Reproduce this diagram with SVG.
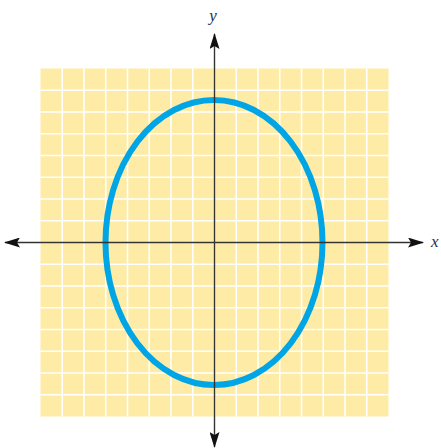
<svg xmlns="http://www.w3.org/2000/svg" width="441" height="448" viewBox="0 0 441 448">
<style>
.grid line{stroke:#ffffff;stroke-width:1.6}
.axis{stroke:#333333;stroke-width:1.4;fill:none}
.lbl{font-family:"Liberation Serif",serif;font-style:italic;font-size:17px;fill:#1f2d5c}
</style>
<defs>
<marker id="ah" viewBox="0 0 16 10" refX="15" refY="5" markerWidth="16" markerHeight="10" markerUnits="userSpaceOnUse" orient="auto">
<path d="M0,0 L16,5 L0,10 L3,5 Z" fill="#111111"/>
</marker>
</defs>
<g id="plane">
<rect x="40.5" y="68.5" width="348" height="348" fill="#fdeba6"/>
<g class="grid">
<line x1="62.25" y1="68.5" x2="62.25" y2="416.5"/>
<line x1="84" y1="68.5" x2="84" y2="416.5"/>
<line x1="105.75" y1="68.5" x2="105.75" y2="416.5"/>
<line x1="127.5" y1="68.5" x2="127.5" y2="416.5"/>
<line x1="149.25" y1="68.5" x2="149.25" y2="416.5"/>
<line x1="171" y1="68.5" x2="171" y2="416.5"/>
<line x1="192.75" y1="68.5" x2="192.75" y2="416.5"/>
<line x1="214.5" y1="68.5" x2="214.5" y2="416.5"/>
<line x1="236.25" y1="68.5" x2="236.25" y2="416.5"/>
<line x1="258" y1="68.5" x2="258" y2="416.5"/>
<line x1="279.75" y1="68.5" x2="279.75" y2="416.5"/>
<line x1="301.5" y1="68.5" x2="301.5" y2="416.5"/>
<line x1="323.25" y1="68.5" x2="323.25" y2="416.5"/>
<line x1="345" y1="68.5" x2="345" y2="416.5"/>
<line x1="366.75" y1="68.5" x2="366.75" y2="416.5"/>
<line x1="40.5" y1="90.25" x2="388.5" y2="90.25"/>
<line x1="40.5" y1="112" x2="388.5" y2="112"/>
<line x1="40.5" y1="133.75" x2="388.5" y2="133.75"/>
<line x1="40.5" y1="155.5" x2="388.5" y2="155.5"/>
<line x1="40.5" y1="177.25" x2="388.5" y2="177.25"/>
<line x1="40.5" y1="199" x2="388.5" y2="199"/>
<line x1="40.5" y1="220.75" x2="388.5" y2="220.75"/>
<line x1="40.5" y1="242.5" x2="388.5" y2="242.5"/>
<line x1="40.5" y1="264.25" x2="388.5" y2="264.25"/>
<line x1="40.5" y1="286" x2="388.5" y2="286"/>
<line x1="40.5" y1="307.75" x2="388.5" y2="307.75"/>
<line x1="40.5" y1="329.5" x2="388.5" y2="329.5"/>
<line x1="40.5" y1="351.25" x2="388.5" y2="351.25"/>
<line x1="40.5" y1="373" x2="388.5" y2="373"/>
<line x1="40.5" y1="394.75" x2="388.5" y2="394.75"/>
</g>
</g>
<g id="ellipse">
<ellipse cx="214" cy="242.5" rx="108.5" ry="142.5" fill="none" stroke="#00a5e6" stroke-width="6"/>
</g>
<g id="axes">
<line class="axis" x1="214.5" y1="242.5" x2="423" y2="242.5" marker-end="url(#ah)"/>
<line class="axis" x1="214.5" y1="242.5" x2="5" y2="242.5" marker-end="url(#ah)"/>
<line class="axis" x1="214.5" y1="242.5" x2="214.5" y2="34" marker-end="url(#ah)"/>
<line class="axis" x1="214.5" y1="242.5" x2="214.5" y2="447" marker-end="url(#ah)"/>
</g>
<g id="labels">
<text class="lbl" x="213" y="21" text-anchor="middle">y</text>
<text class="lbl" x="431" y="247">x</text>
</g>
</svg>
